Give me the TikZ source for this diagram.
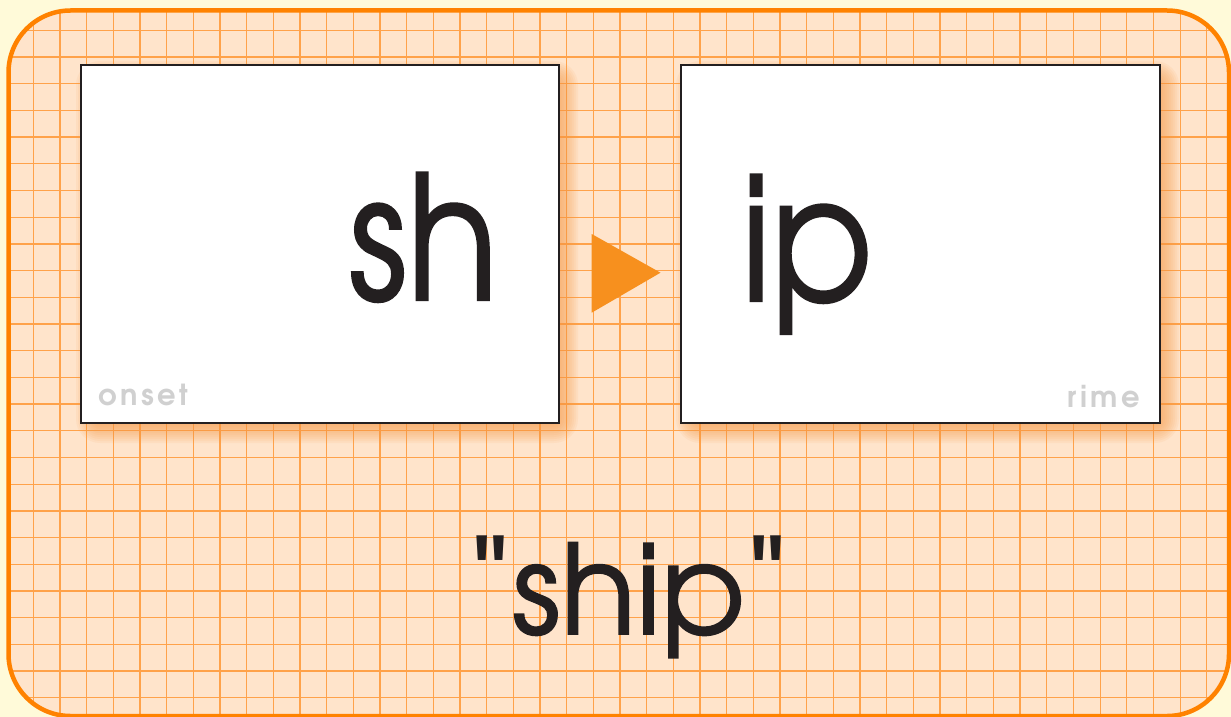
\documentclass[tikz,border=0pt]{standalone}
\usepackage{fontspec}
\usepackage{graphicx}
\setmainfont{texgyreadventor}[Extension=.otf, UprightFont=*-regular, BoldFont=*-bold]
\newfontfamily\bigfont{texgyreadventor}[Extension=.otf, UprightFont=*-regular, FakeBold=1.2]
\newfontfamily\labelfont{texgyreadventor}[Extension=.otf, UprightFont=*-bold, LetterSpace=12]
\newfontfamily\quotefont{Poppins}
\definecolor{bgcream}{HTML}{FFFAD9}
\definecolor{peach}{HTML}{FFE4CB}
\definecolor{frameorange}{HTML}{FF8200}
\definecolor{gridorange}{HTML}{FFA24A}
\definecolor{arroworange}{HTML}{F7901E}
\definecolor{ink}{HTML}{231F20}
\definecolor{labelgray}{HTML}{D0D0D0}
\definecolor{glow}{HTML}{F99A45}
\tikzset{
  card/.style={draw=ink, line width=2pt, fill=white, inner sep=0pt},
  glowlayer/.style={fill=glow, opacity=0.085},
  bigletters/.style={inner sep=0pt, anchor=base west, text=ink, font=\bigfont\fontsize{166}{166}\selectfont},
  wordtext/.style={inner sep=0pt, anchor=base west, text=ink, font=\bigfont\fontsize{124}{124}\selectfont},
  cardlabel/.style={inner sep=0pt, text=labelgray, font=\labelfont\fontsize{29}{29}\selectfont}
}
\begin{document}
\begin{tikzpicture}[x=1pt,y=-1pt]
\useasboundingbox (0,0) rectangle (1231,717);
\fill[bgcream] (0,0) rectangle (1231,717);
% framed grid panel
\fill[peach, rounded corners=62pt] (8.5,10.5) rectangle (1229,716);
\begin{scope}
  \clip[rounded corners=62pt] (8.5,10.5) rectangle (1229,716);
  \foreach \i in {0,...,46} {
    \draw[gridorange, line width=1.3pt] ({6.67+26.67*\i},0) -- ({6.67+26.67*\i},717);
  }
  \foreach \j in {0,...,27} {
    \draw[gridorange, line width=1.3pt] (0,{3.6+26.7*\j}) -- (1231,{3.6+26.7*\j});
  }
  % soft orange glow under the cards
  \foreach \e in {-12,-10,...,12} {
    \fill[glowlayer, rounded corners={max(\e+12,1)*1pt}]
      ({81+7-\e},{65+8-\e}) rectangle ({559+7+\e},{423+8+\e});
    \fill[glowlayer, rounded corners={max(\e+12,1)*1pt}]
      ({681+7-\e},{65+8-\e}) rectangle ({1160+7+\e},{423+8+\e});
  }
\end{scope}
\draw[frameorange, line width=4.5pt, rounded corners=62pt] (8.5,10.5) rectangle (1229,716);
% cards
\node[card, minimum width=478pt, minimum height=358pt] (onsetcard) at (320,244) {};
\node[card, minimum width=479pt, minimum height=358pt] (rimecard) at (920.5,244) {};
% arrow
\fill[arroworange] (591.7,234) -- (660.5,272.7) -- (591.7,312.7) -- cycle;
% letters
\node[bigletters] (sh) at (349,300) {\scalebox{0.9}[1.04]{sh}};
\node[bigletters] (ip) at (741,301) {\scalebox{0.9}[1.04]{ip}};
\node[cardlabel, anchor=base west] (onsetlabel) at (98,405) {onset};
\node[cardlabel, anchor=base east] (rimelabel) at (1140,407) {rime};
\node[wordtext] (word) at (472,634) {{\quotefont\symbol{34}}\hspace{4pt}ship\hspace{4pt}{\quotefont\symbol{34}}};
\end{tikzpicture}
\end{document}
